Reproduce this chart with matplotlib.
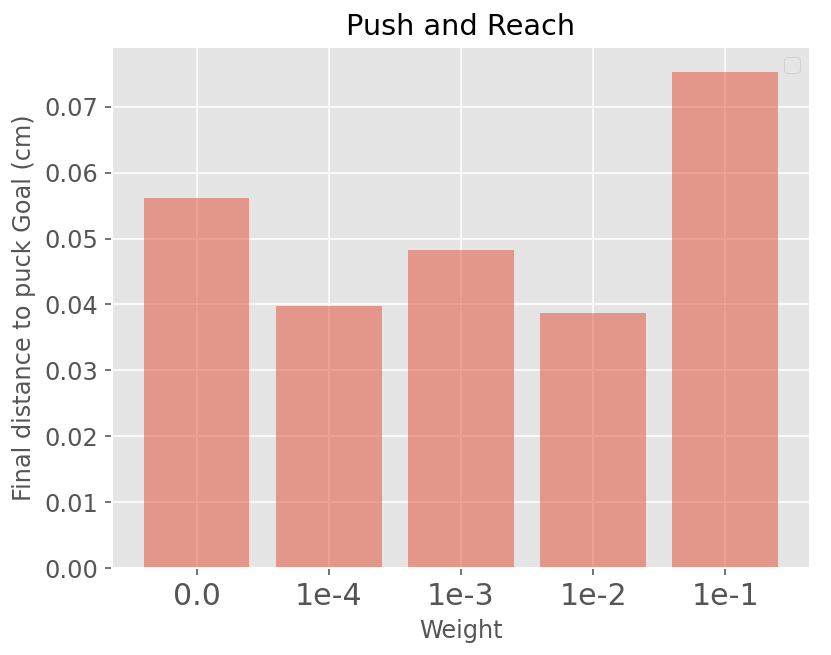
import matplotlib
matplotlib.use('Agg')
import matplotlib.pyplot as plt

weights = ['0.0', '1e-4', '1e-3', '1e-2', '1e-1']
distances = [0.0561, 0.0398, 0.0482, 0.0387, 0.0753]

plt.style.use('ggplot')

fig = plt.figure(figsize=(831 / 144, 655 / 144), dpi=144)
ax = fig.add_axes([0.1348, 0.1328, 0.9747 - 0.1348, 0.9282 - 0.1328])

x = range(len(weights))
ax.bar(x, distances, width=0.8, alpha=0.5)
ax.set_xticks(list(x))
ax.set_xticklabels(weights, fontsize=15)
ax.tick_params(axis='y', labelsize=12)
ax.set_xlabel('Weight', fontsize=12)
ax.set_ylabel('Final distance to puck Goal (cm)', fontsize=12)
ax.set_title('Push and Reach', fontsize=14.4)
ax.legend(handles=[])

fig.savefig('out.png', dpi=144)
